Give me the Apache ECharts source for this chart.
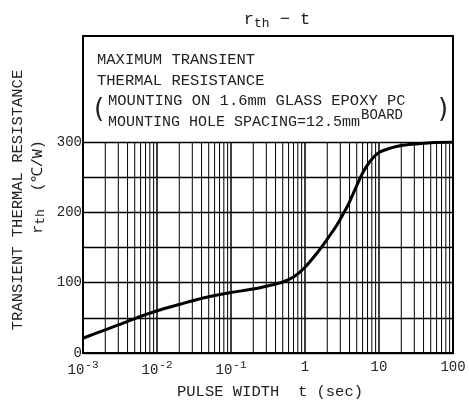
<!DOCTYPE html>
<html>
<head>
<meta charset="utf-8">
<script src="https://cdn.jsdelivr.net/npm/echarts@6/dist/echarts.min.js"></script>
<style>
html,body{margin:0;padding:0;background:#fff;}
#c{width:469px;height:405px;}
</style>
</head>
<body>
<div id="c"></div>
<script>
// ---- data ----
var pulseWidth = [0.001, 0.002, 0.003, 0.005, 0.01, 0.02, 0.035, 0.05, 0.1, 0.2, 0.3, 0.5, 0.7, 1, 1.5, 2, 2.7, 3.5, 4, 5, 6, 7.5, 10, 15, 20, 30, 50, 100];
var rth        = [21,    33,    40,    49,    60,   69,   76,    80,   86,  91,  95,  101, 108, 122, 144, 162, 182, 203, 215, 238, 256, 272, 285, 292, 295, 297, 299, 300];
var xDecades = [-3, -2, -1, 0, 1, 2];
var xTickLabels = ['10|-3', '10|-2', '10|-1', '1', '10', '100'];
var yTickLabels = [0, 100, 200, 300];
var minorMultipliers = [2, 3, 4, 5, 6, 7, 8, 9];
var boxLines = ['MAXIMUM TRANSIENT', 'THERMAL RESISTANCE', 'MOUNTING ON 1.6mm GLASS EPOXY PC', 'MOUNTING HOLE SPACING=12.5mm'];

var FONT = '"Liberation Mono", "DejaVu Sans Mono", monospace';
var curve = pulseWidth.map(function (t, i) { return [t, rth[i]]; });

var minorLines = [];
xDecades.slice(0, -1).forEach(function (e) {
  minorMultipliers.forEach(function (m) {
    minorLines.push([parseFloat((m * Math.pow(10, e)).toPrecision(6))]);
  });
});

var chart = echarts.init(document.getElementById('c'), null, { renderer: 'canvas' });
var G = { left: 83, right: 16, top: 142, bottom: 52 };

chart.setOption({
  animation: false,
  backgroundColor: '#fff',
  title: {
    text: '{a|r}{s|th}{a| − t}',
    left: 272, top: 4, textAlign: 'center',
    textStyle: {
      fontWeight: 'normal',
      rich: {
        a: { fontFamily: FONT, fontSize: 17, color: '#222', fontWeight: 'normal' },
        s: { fontFamily: FONT, fontSize: 13, color: '#222', fontWeight: 'normal', padding: [8, 0, 0, 0] }
      }
    }
  },
  grid: G,
  xAxis: {
    type: 'log', logBase: 10, min: 0.001, max: 100,
    axisLine: { show: true, lineStyle: { color: '#000', width: 2 } },
    axisTick: { show: false },
    splitLine: { show: true, lineStyle: { color: '#000', width: 1.5 } },
    axisLabel: {
      margin: 7,
      formatter: function (v) {
        var e = Math.round(Math.log10(v));
        var lab = xTickLabels[xDecades.indexOf(e)];
        if (lab === undefined) return '';
        var p = lab.split('|');
        return p.length > 1 ? '{b|' + p[0] + '}{s|' + p[1] + '}' : '{b|' + p[0] + '}';
      },
      rich: {
        b: { fontFamily: FONT, fontSize: 14, color: '#222' },
        s: { fontFamily: FONT, fontSize: 11, color: '#222', padding: [0, 0, 9, 1] }
      }
    }
  },
  yAxis: {
    type: 'value', min: 0, max: 300, interval: 50,
    axisLine: { show: true, lineStyle: { color: '#000', width: 2 } },
    axisTick: { show: false },
    splitLine: { show: true, lineStyle: { color: '#000', width: 1.4 } },
    axisLabel: {
      margin: 1,
      fontFamily: FONT, fontSize: 14, color: '#222',
      formatter: function (v) { return yTickLabels.indexOf(v) >= 0 ? String(v) : ''; }
    }
  },
  series: [
    {
      type: 'custom', data: minorLines, silent: true, clip: true, z: 1,
      encode: { x: 0 },
      renderItem: function (params, api) {
        var p0 = api.coord([api.value(0), 0]);
        var p1 = api.coord([api.value(0), 300]);
        return { type: 'line', shape: { x1: p0[0], y1: p0[1], x2: p1[0], y2: p1[1] },
                 style: { stroke: '#000', lineWidth: 1 } };
      }
    },
    {
      type: 'line', data: curve, smooth: 0.3, showSymbol: false,
      lineStyle: { color: '#000', width: 3 }, z: 5
    }
  ],
  graphic: [
    { type: 'rect', shape: { x: 83, y: 36, width: 370, height: 317 }, style: { fill: 'none', stroke: '#000', lineWidth: 2 }, z: 10 },
    { type: 'text', x: 97, y: 60, style: { text: boxLines[0], font: '15.5px ' + FONT, fill: '#222', textVerticalAlign: 'middle' } },
    { type: 'text', x: 97, y: 81, style: { text: boxLines[1], font: '15.5px ' + FONT, fill: '#222', textVerticalAlign: 'middle' } },
    { type: 'text', x: 94, y: 110, style: { text: '(', font: '26px "DejaVu Sans"', fill: '#222', textVerticalAlign: 'middle' } },
    { type: 'text', x: 108, y: 101, style: { text: boxLines[2], font: '15.5px ' + FONT, fill: '#222', textVerticalAlign: 'middle' } },
    { type: 'text', x: 108, y: 122, style: { text: boxLines[3], font: '15px ' + FONT, fill: '#222', textVerticalAlign: 'middle' } },
    { type: 'text', x: 361, y: 115, style: { text: 'BOARD', font: '14px ' + FONT, fill: '#222', textVerticalAlign: 'middle' } },
    { type: 'text', x: 438, y: 110, style: { text: ')', font: '26px "DejaVu Sans"', fill: '#222', textVerticalAlign: 'middle' } },
    { type: 'text', x: 270, y: 392, style: { text: 'PULSE WIDTH  t (sec)', font: '15.5px ' + FONT, fill: '#222', textAlign: 'center', textVerticalAlign: 'middle' } },
    { type: 'text', x: 18, y: 200, rotation: Math.PI / 2, style: { text: 'TRANSIENT THERMAL RESISTANCE', font: '15.5px ' + FONT, fill: '#222', textAlign: 'center', textVerticalAlign: 'middle' } },
    { type: 'text', x: 38, y: 187, rotation: Math.PI / 2, style: {
        text: '{a|r}{s|th}{a|  (℃/W)}', fill: '#222', textAlign: 'center', textVerticalAlign: 'middle',
        rich: { a: { fontFamily: FONT, fontSize: 15, fill: '#222' }, s: { fontFamily: FONT, fontSize: 13, fill: '#222', padding: [6, 0, 0, 0] } }
      } }
  ]
});
</script>
</body>
</html>
